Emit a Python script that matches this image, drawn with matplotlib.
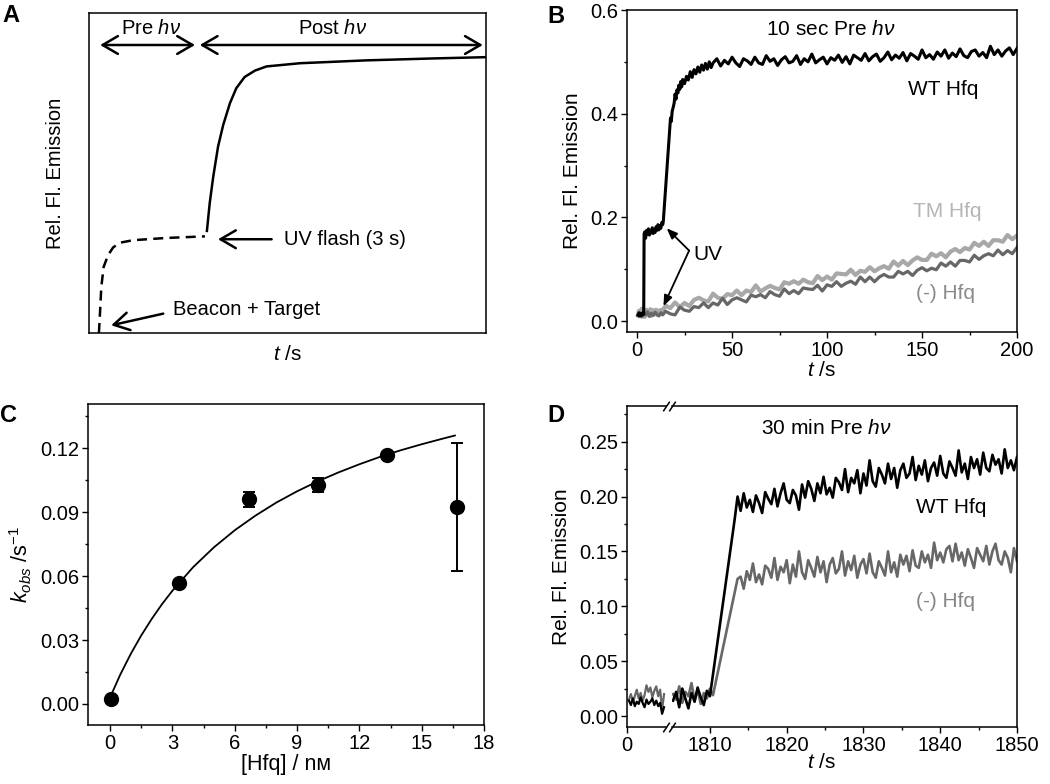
import numpy as np
import matplotlib
matplotlib.use('Agg')
import matplotlib.pyplot as plt
from matplotlib.ticker import MultipleLocator, FormatStrFormatter

plt.rcParams['font.family'] = ['Liberation Sans', 'DejaVu Sans']
plt.rcParams['mathtext.fontset'] = 'custom'
plt.rcParams['mathtext.rm'] = 'Liberation Sans'
plt.rcParams['mathtext.it'] = 'Liberation Sans:italic'
plt.rcParams['mathtext.bf'] = 'Liberation Sans:bold'

# ---- panel A (schematic, arbitrary units 0..100) ----
a_dash_x = [2.5, 2.8, 3.1, 3.7, 4.8, 6.05, 7.7, 11.1, 19.5, 29.2]
a_dash_y = [0.0, 7.0, 14.4, 20.7, 24.3, 26.7, 28.2, 29.0, 29.7, 30.2]
a_solid_x = [29.7, 30.4, 31.3, 32.5, 33.8, 35.5, 37.1, 39.2, 41.8, 44.7, 53.1, 69.9, 86.7, 100.0]
a_solid_y = [31.9, 40.5, 48.9, 58.2, 65.0, 71.8, 76.5, 80.0, 82.0, 83.3, 84.3, 85.2, 85.8, 86.2]

# ---- panel B (10 sec pre hv) ----
b_wt_early_t = [0.5, 1.0, 1.5, 2.0, 2.5, 3.0, 3.5, 3.7,
                4.0, 4.5, 5.0, 5.5, 6.0, 6.5, 7.0, 7.5, 8.0, 8.5, 9.0, 9.5,
                10.0, 10.5, 11.0, 11.5, 12.0, 12.5, 13.0, 13.5, 13.8, 17.2, 17.6,
                18.0, 18.5, 19.0, 19.5, 20.0, 20.5, 21.0, 21.5, 22.0, 22.5, 23.0, 23.5,
                24, 25, 26, 27, 28, 29, 30, 31, 32, 33, 34, 35, 36, 37, 38, 39, 40]
b_wt_early = [0.012, 0.016, 0.010, 0.014, 0.011, 0.016, 0.013, 0.168,
              0.172, 0.160, 0.175, 0.168, 0.178, 0.166, 0.174, 0.170, 0.180, 0.169, 0.176, 0.171,
              0.182, 0.175, 0.186, 0.176, 0.184, 0.179, 0.190, 0.186, 0.192, 0.372, 0.392,
              0.385, 0.405, 0.412, 0.420, 0.438, 0.428, 0.446, 0.440, 0.455, 0.447, 0.462, 0.452,
              0.466, 0.458, 0.472, 0.465, 0.481, 0.470, 0.485, 0.477, 0.490, 0.480, 0.494, 0.484,
              0.497, 0.486, 0.500, 0.489, 0.498]
b_wt_late = [0.506, 0.492, 0.503, 0.496, 0.509, 0.498, 0.491, 0.506, 0.502, 0.495,
             0.509, 0.498, 0.495, 0.512, 0.501, 0.506, 0.493, 0.504, 0.510, 0.498,
             0.501, 0.512, 0.495, 0.506, 0.500, 0.515, 0.498, 0.504, 0.509, 0.496,
             0.508, 0.503, 0.513, 0.499, 0.510, 0.496, 0.513, 0.508, 0.503, 0.516,
             0.502, 0.510, 0.515, 0.501, 0.508, 0.519, 0.504, 0.513, 0.507, 0.518,
             0.502, 0.516, 0.511, 0.505, 0.523, 0.508, 0.514, 0.505, 0.519, 0.511,
             0.523, 0.507, 0.517, 0.510, 0.525, 0.512, 0.508, 0.520, 0.523, 0.511,
             0.518, 0.508, 0.530, 0.514, 0.523, 0.511, 0.521, 0.527, 0.514, 0.526]
b_wt_late_range = (42, 200)

b_tm_early = [0.012, 0.020, 0.009, 0.017, 0.024, 0.011, 0.019, 0.008, 0.016, 0.022,
              0.012, 0.018, 0.014, 0.023, 0.010, 0.017, 0.021, 0.013, 0.016, 0.022,
              0.012, 0.019, 0.015, 0.021, 0.017, 0.022, 0.019]
b_tm_early_range = (0.5, 13.5)
b_neg_early = [0.010, 0.016, 0.008, 0.014, 0.012, 0.018, 0.009, 0.015, 0.011, 0.017,
               0.013, 0.010, 0.016, 0.012]
b_neg_early_range = (0.5, 13.5)
b_main_range = (15, 200)
b_tm_main = [0.030, 0.025, 0.036, 0.027, 0.035, 0.029, 0.041, 0.045, 0.040, 0.038,
             0.053, 0.045, 0.043, 0.052, 0.050, 0.059, 0.050, 0.059, 0.056, 0.069,
             0.057, 0.063, 0.068, 0.064, 0.061, 0.075, 0.072, 0.077, 0.072, 0.080,
             0.075, 0.073, 0.087, 0.079, 0.086, 0.080, 0.092, 0.091, 0.090, 0.099,
             0.089, 0.097, 0.095, 0.104, 0.096, 0.102, 0.106, 0.101, 0.115, 0.107,
             0.116, 0.108, 0.117, 0.123, 0.118, 0.118, 0.130, 0.125, 0.131, 0.123,
             0.134, 0.139, 0.133, 0.141, 0.138, 0.151, 0.145, 0.153, 0.145, 0.156,
             0.156, 0.153, 0.166, 0.158, 0.165]
b_neg_main = [0.019, 0.014, 0.012, 0.027, 0.021, 0.019, 0.028, 0.026, 0.035, 0.026,
              0.035, 0.031, 0.044, 0.032, 0.041, 0.045, 0.041, 0.037, 0.050, 0.047,
              0.051, 0.045, 0.057, 0.051, 0.048, 0.062, 0.053, 0.059, 0.053, 0.064,
              0.062, 0.061, 0.069, 0.058, 0.070, 0.067, 0.076, 0.067, 0.073, 0.077,
              0.071, 0.085, 0.076, 0.085, 0.076, 0.085, 0.090, 0.085, 0.085, 0.096,
              0.091, 0.096, 0.088, 0.098, 0.103, 0.097, 0.102, 0.099, 0.112, 0.106,
              0.114, 0.106, 0.117, 0.117, 0.114, 0.127, 0.119, 0.126, 0.130, 0.126,
              0.137, 0.128, 0.136, 0.130, 0.142]

# ---- panel C (kobs vs [Hfq]) ----
c_hfq = [0.05, 3.32, 6.7, 10.0, 13.35, 16.7]
c_kobs = [0.0023, 0.0569, 0.0961, 0.1028, 0.1169, 0.0926]
c_err = [0.001, 0.001, 0.0036, 0.0034, 0.001, 0.030]
c_fit_x = [0, 0.5, 1, 1.5, 2, 2.5, 3, 4, 5, 6, 7, 8, 9, 10, 11, 12, 13, 14, 15, 16, 16.6]
c_fit_y = [0.0030, 0.0139, 0.0235, 0.0321, 0.0398, 0.0468, 0.0531, 0.0642, 0.0735, 0.0815,
           0.0884, 0.0945, 0.0998, 0.1045, 0.1087, 0.1125, 0.1160, 0.1191, 0.1219, 0.1245, 0.1260]

# ---- panel D (30 min pre hv, broken time axis) ----
d_left_range = (0.25, 4.75)
d_wt_left = [0.014, 0.010, 0.016, 0.009, 0.013, 0.011, 0.017, 0.012, 0.008, 0.015,
             0.011, 0.013, 0.016, 0.010, 0.014, 0.009, 0.012, 0.002, 0.008]
d_neg_left = [0.015, 0.020, 0.013, 0.018, 0.024, 0.016, 0.021, 0.014, 0.019, 0.028,
              0.022, 0.026, 0.017, 0.023, 0.027, 0.018, 0.024, 0.006, 0.020]
d_wt_pre_range = (1805.2, 1810.0)
d_wt_pre = [0.014, 0.022, 0.008, 0.025, 0.016, 0.007, 0.021, 0.013, 0.026, 0.017,
            0.010, 0.023, 0.018]
d_wt_ramp_t = 1813.2
d_wt_ramp = 0.178
d_neg_pre_range = (1805.2, 1810.4)
d_neg_pre = [0.020, 0.015, 0.027, 0.012, 0.022, 0.018, 0.030, 0.014, 0.024, 0.011,
             0.021, 0.016, 0.025, 0.019]
d_main_range = (1813.6, 1850.0)
d_wt_main = [0.200, 0.187, 0.203, 0.190, 0.197, 0.186, 0.201, 0.194, 0.185, 0.204,
             0.198, 0.193, 0.207, 0.191, 0.203, 0.212, 0.197, 0.194, 0.206, 0.201,
             0.188, 0.211, 0.199, 0.214, 0.207, 0.196, 0.212, 0.203, 0.218, 0.202,
             0.208, 0.199, 0.217, 0.213, 0.206, 0.225, 0.204, 0.217, 0.212, 0.224,
             0.203, 0.221, 0.210, 0.233, 0.214, 0.209, 0.226, 0.220, 0.212, 0.230,
             0.216, 0.226, 0.208, 0.224, 0.230, 0.217, 0.221, 0.236, 0.215, 0.228,
             0.220, 0.233, 0.214, 0.226, 0.231, 0.219, 0.237, 0.221, 0.217, 0.232,
             0.226, 0.219, 0.242, 0.222, 0.230, 0.216, 0.236, 0.226, 0.234, 0.220,
             0.240, 0.226, 0.223, 0.238, 0.229, 0.234, 0.221, 0.243, 0.226, 0.233,
             0.224, 0.236]
d_neg_main = [0.125, 0.127, 0.116, 0.132, 0.124, 0.139, 0.122, 0.129, 0.120, 0.137,
              0.134, 0.126, 0.144, 0.124, 0.136, 0.131, 0.142, 0.121, 0.138, 0.127,
              0.150, 0.131, 0.125, 0.142, 0.135, 0.127, 0.145, 0.131, 0.141, 0.122,
              0.138, 0.144, 0.130, 0.134, 0.150, 0.128, 0.141, 0.133, 0.146, 0.126,
              0.138, 0.143, 0.130, 0.148, 0.131, 0.126, 0.141, 0.135, 0.128, 0.150,
              0.131, 0.140, 0.127, 0.147, 0.138, 0.146, 0.132, 0.151, 0.137, 0.135,
              0.150, 0.140, 0.147, 0.135, 0.158, 0.142, 0.149, 0.140, 0.152, 0.155,
              0.141, 0.157, 0.142, 0.149, 0.137, 0.152, 0.144, 0.135, 0.153, 0.147,
              0.141, 0.155, 0.138, 0.150, 0.157, 0.142, 0.138, 0.150, 0.144, 0.131,
              0.153, 0.141]

TM_GREY = '#a8a8a8'
NEG_GREY = '#676767'


def sampled(rng, vals):
    return np.linspace(rng[0], rng[1], len(vals))


W, H = 1050, 784


def box(l, t, r, b):
    return [l / W, 1 - b / H, (r - l) / W, (b - t) / H]


def style(ax):
    for s in ax.spines.values():
        s.set_linewidth(1.1)
    ax.tick_params(which='both', direction='out', top=False, right=False,
                   labelsize=14.5, width=1.0, pad=2.5)
    ax.tick_params(which='major', length=4)
    ax.tick_params(which='minor', length=2.5)


fig = plt.figure(figsize=(10.5, 7.84), dpi=100)

ax_a = fig.add_axes(box(89, 13, 486, 333))
ax_b = fig.add_axes(box(627, 10, 1017, 332))
ax_c = fig.add_axes(box(88, 404, 484, 725))
ax_dl = fig.add_axes(box(627, 406, 666, 727))
ax_dr = fig.add_axes(box(672, 406, 1017, 727))

# ---------------- A ----------------
style(ax_a)
ax_a.plot(a_dash_x, a_dash_y, color='k', lw=1.8, ls=(0, (4, 2.5)))
ax_a.plot(a_solid_x, a_solid_y, color='k', lw=1.8)
ax_a.set_xlim(0, 100)
ax_a.set_ylim(0, 100)
ax_a.set_xticks([])
ax_a.set_yticks([])
dbl = dict(arrowstyle='<->,head_length=0.55,head_width=0.32', lw=1.8, color='k',
           shrinkA=0, shrinkB=0, mutation_scale=20)
one = dict(arrowstyle='->,head_length=0.55,head_width=0.32', lw=1.8, color='k',
           shrinkA=0, shrinkB=0, mutation_scale=20)
ax_a.annotate('', xy=(2.8, 90), xytext=(26.7, 90), arrowprops=dbl)
ax_a.annotate('', xy=(27.9, 90), xytext=(99.2, 90), arrowprops=dbl)
ax_a.text(15.7, 95.3, r'Pre $h\nu$', ha='center', va='center', fontsize=14.5)
ax_a.text(61.3, 95.3, r'Post $h\nu$', ha='center', va='center', fontsize=14.5)
ax_a.annotate('', xy=(32.5, 29.3), xytext=(46, 29.3), arrowprops=one)
ax_a.text(49, 29.3, 'UV flash (3 s)', ha='left', va='center', fontsize=14.5)
ax_a.annotate('', xy=(5.6, 2.4), xytext=(18.7, 6.05), arrowprops=one)
ax_a.text(21.2, 7.4, 'Beacon + Target', ha='left', va='center', fontsize=14.5)
ax_a.set_xlabel(r'$t$ /s', fontsize=15, labelpad=9)
ax_a.set_ylabel('Rel. Fl. Emission', fontsize=14.5, labelpad=17)

# ---------------- B ----------------
style(ax_b)
b_wt_t = np.concatenate([b_wt_early_t, sampled(b_wt_late_range, b_wt_late)])
b_wt = np.concatenate([b_wt_early, b_wt_late])
b_tm_t = np.concatenate([sampled(b_tm_early_range, b_tm_early), sampled(b_main_range, b_tm_main)])
b_tm = np.concatenate([b_tm_early, b_tm_main])
b_neg_t = np.concatenate([sampled(b_neg_early_range, b_neg_early), sampled(b_main_range, b_neg_main)])
b_neg = np.concatenate([b_neg_early, b_neg_main])
ax_b.plot(b_tm_t, b_tm, color=TM_GREY, lw=3.0)
ax_b.plot(b_neg_t, b_neg, color=NEG_GREY, lw=2.3)
ax_b.plot(b_wt_t, b_wt, color='k', lw=2.2)
ax_b.set_xlim(-5.3, 200)
ax_b.set_ylim(-0.021, 0.6)
ax_b.xaxis.set_major_locator(MultipleLocator(50))
ax_b.xaxis.set_minor_locator(MultipleLocator(25))
ax_b.yaxis.set_major_locator(MultipleLocator(0.2))
ax_b.yaxis.set_minor_locator(MultipleLocator(0.1))
ax_b.yaxis.set_major_formatter(FormatStrFormatter('%.1f'))
ax_b.text(101.9, 0.563, r'10 sec Pre $h\nu$', ha='center', va='center', fontsize=15)
ax_b.text(142.8, 0.447, 'WT Hfq', ha='left', va='center', fontsize=15)
ax_b.text(145.4, 0.2105, 'TM Hfq', ha='left', va='center', fontsize=15, color='#b5b5b5')
ax_b.text(146.8, 0.0534, '(-) Hfq', ha='left', va='center', fontsize=15, color='#8a8a8a')
uv = dict(arrowstyle='-|>,head_length=0.45,head_width=0.18', lw=1.3, color='k',
          shrinkA=0, shrinkB=0, mutation_scale=14)
ax_b.annotate('', xy=(15.6, 0.179), xytext=(27.4, 0.136), arrowprops=uv)
ax_b.annotate('', xy=(13.9, 0.029), xytext=(27.4, 0.136), arrowprops=uv)
ax_b.text(29.5, 0.128, 'UV', ha='left', va='center', fontsize=15)
ax_b.set_xlabel(r'$t$ /s', fontsize=15, labelpad=1)
ax_b.set_ylabel('Rel. Fl. Emission', fontsize=15, labelpad=6)

# ---------------- C ----------------
style(ax_c)
ax_c.plot(c_fit_x, c_fit_y, color='k', lw=1.3)
ax_c.errorbar(c_hfq, c_kobs, yerr=c_err, fmt='o', color='k', ms=10,
              capsize=4.5, elinewidth=1.4, capthick=1.4)
ax_c.set_xlim(-1.06, 18)
ax_c.set_ylim(-0.0099, 0.1408)
ax_c.xaxis.set_major_locator(MultipleLocator(3))
ax_c.xaxis.set_minor_locator(MultipleLocator(1.5))
ax_c.yaxis.set_major_locator(MultipleLocator(0.03))
ax_c.yaxis.set_minor_locator(MultipleLocator(0.015))
ax_c.yaxis.set_major_formatter(FormatStrFormatter('%.2f'))
ax_c.set_xlabel('[Hfq] / n\u1d0d', fontsize=15.5, labelpad=1)
ax_c.set_ylabel(r'$k_{obs}$ /s$^{-1}$', fontsize=15.5, labelpad=4)

# ---------------- D ----------------
for ax in (ax_dl, ax_dr):
    style(ax)
    ax.set_ylim(-0.010, 0.2825)
ax_dl.spines['right'].set_visible(False)
ax_dr.spines['left'].set_visible(False)
ax_dr.tick_params(which='both', left=False, labelleft=False)

d_left_t = sampled(d_left_range, d_wt_left)
ax_dl.plot(d_left_t, d_neg_left, color=NEG_GREY, lw=1.6)
ax_dl.plot(d_left_t, d_wt_left, color='k', lw=1.6)
ax_dl.set_xlim(0, 5)
ax_dl.set_xticks([0])
ax_dl.yaxis.set_major_locator(MultipleLocator(0.05))
ax_dl.yaxis.set_minor_locator(MultipleLocator(0.025))
ax_dl.yaxis.set_major_formatter(FormatStrFormatter('%.2f'))

d_wt_t = np.concatenate([sampled(d_wt_pre_range, d_wt_pre), [d_wt_ramp_t],
                         sampled(d_main_range, d_wt_main)])
d_wt = np.concatenate([d_wt_pre, [d_wt_ramp], d_wt_main])
d_neg_t = np.concatenate([sampled(d_neg_pre_range, d_neg_pre), sampled(d_main_range, d_neg_main)])
d_neg = np.concatenate([d_neg_pre, d_neg_main])
ax_dr.plot(d_neg_t, d_neg, color=NEG_GREY, lw=1.9)
ax_dr.plot(d_wt_t, d_wt, color='k', lw=1.9)
ax_dr.set_xlim(1805.06, 1850)
ax_dr.xaxis.set_major_locator(MultipleLocator(10))
ax_dr.xaxis.set_minor_locator(MultipleLocator(5))

brk = dict(marker=[(-1, -1.5), (1, 1.5)], markersize=7, linestyle='none',
           color='k', mec='k', mew=1.1, clip_on=False)
ax_dl.plot([1, 1], [0, 1], transform=ax_dl.transAxes, **brk)
ax_dr.plot([0, 0], [0, 1], transform=ax_dr.transAxes, **brk)

ax_dr.text(1825.1, 0.262, r'30 min Pre $h\nu$', ha='center', va='center', fontsize=15)
ax_dr.text(1836.9, 0.190, 'WT Hfq', ha='left', va='center', fontsize=15)
ax_dr.text(1836.9, 0.104, '(-) Hfq', ha='left', va='center', fontsize=15, color='#858585')
ax_dl.set_ylabel('Rel. Fl. Emission', fontsize=15, labelpad=6)
ax_dr.set_xlabel(r'$t$ /s', fontsize=15, labelpad=2)
ax_dr.xaxis.set_label_coords((822 - 672) / 345, -0.08)

# panel letters
for lbl, x, y in [('A', 2, 4), ('B', 547, 5), ('C', 0, 404), ('D', 547, 404)]:
    fig.text(x / W, 1 - y / H, lbl, fontsize=17, fontweight='bold', va='top', ha='left')

fig.savefig('out.png', dpi=100)
